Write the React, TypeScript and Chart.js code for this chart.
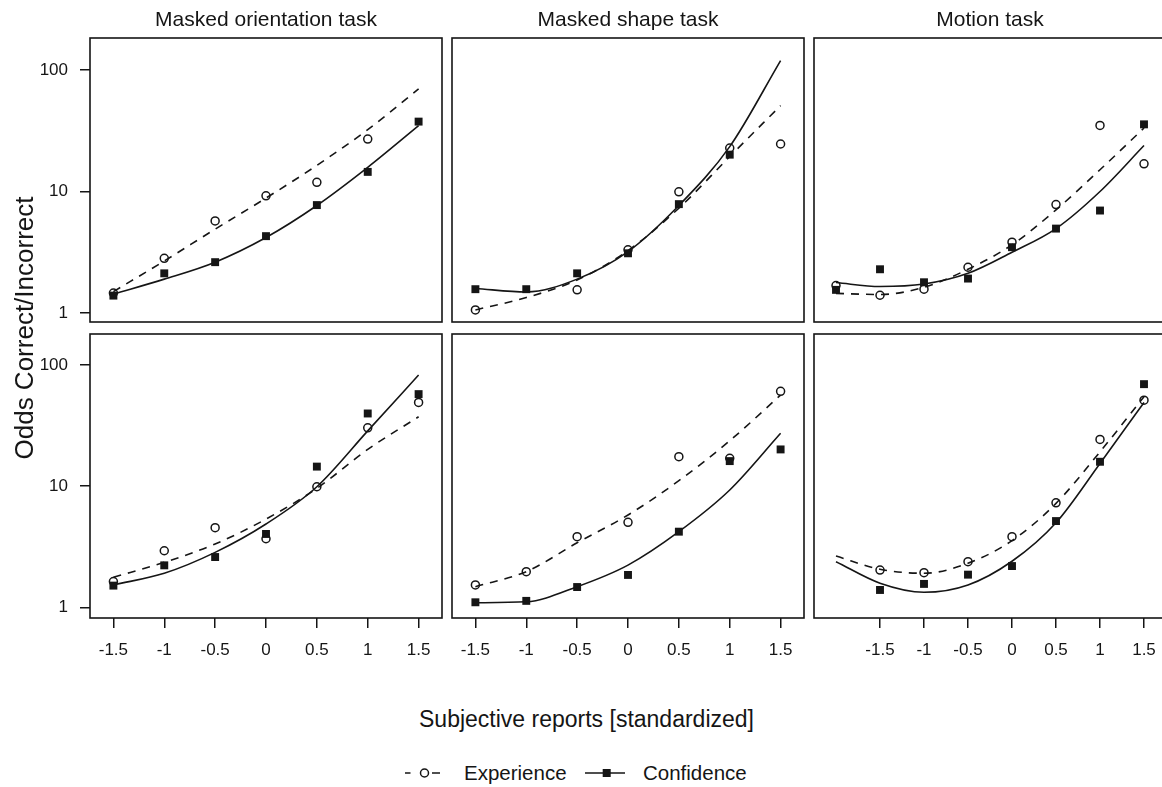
import React, { useEffect, useRef } from "react";
import { Chart, registerables } from "chart.js";

Chart.register(...registerables);

// ---------- data ----------
const TASKS = ["Masked orientation task", "Masked shape task", "Motion task"];
const SERIES = ["Experience", "Confidence"];
const AXIS_Y_TITLE = "Odds Correct/Incorrect";
const AXIS_X_TITLE = "Subjective reports [standardized]";

const X_STD = [-1.5, -1, -0.5, 0, 0.5, 1, 1.5];
const X_MOTION = [-2, -1.5, -1, -0.5, 0, 0.5, 1, 1.5];
const X_TICKS = [-1.5, -1, -0.5, 0, 0.5, 1, 1.5];
const Y_TICKS = [1, 10, 100];

// row 1 - masked orientation
const ORI1_EXP = [1.46, 2.82, 5.73, 9.22, 11.9, 27.0, null];
const ORI1_CONF = [1.39, 2.12, 2.62, 4.29, 7.73, 14.5, 37.6];
const ORI1_EXP_FIT = [1.5, 2.68, 4.9, 8.83, 16.4, 32.3, 69.8];
const ORI1_CONF_FIT = [1.43, 1.9, 2.62, 4.18, 7.67, 15.8, 34.8];

// row 1 - masked shape
const SHP1_EXP = [1.06, null, 1.55, 3.31, 9.94, 22.8, 24.6];
const SHP1_CONF = [1.57, 1.57, 2.12, 3.1, 7.87, 20.1, null];
const SHP1_EXP_FIT = [1.06, 1.34, 1.87, 3.26, 7.29, 19.4, 50.9];
const SHP1_CONF_FIT = [1.59, 1.49, 1.9, 3.2, 7.67, 23.4, 119.6];

// row 1 - motion (x from -2)
const MOT1_EXP = [1.68, 1.4, 1.57, 2.38, 3.83, 7.81, 35.0, 16.9];
const MOT1_CONF = [1.55, 2.29, 1.79, 1.92, 3.48, 4.95, 6.97, 35.7];
const MOT1_EXP_FIT = [1.45, 1.42, 1.63, 2.29, 3.64, 7.06, 15.1, 33.3];
const MOT1_CONF_FIT = [1.78, 1.65, 1.73, 2.12, 3.16, 4.95, 10.0, 23.9];

// row 2 - masked orientation
const ORI2_EXP = [1.63, 2.93, 4.54, 3.68, 9.89, 30.3, 49.1];
const ORI2_CONF = [1.51, 2.22, 2.6, 4.03, 14.5, 39.8, 57.5];
const ORI2_EXP_FIT = [1.77, 2.35, 3.33, 5.35, 9.59, 20.1, 37.4];
const ORI2_CONF_FIT = [1.53, 1.91, 2.84, 4.87, 9.89, 28.6, 82.6];

// row 2 - masked shape
const SHP2_EXP = [1.53, 1.97, 3.83, 5.03, 17.5, 17.0, 60.6];
const SHP2_CONF = [1.1, 1.13, 1.47, 1.85, 4.21, 16.1, 20.1];
const SHP2_EXP_FIT = [1.48, 1.97, 3.41, 5.78, 11.1, 23.7, 56.5];
const SHP2_CONF_FIT = [1.09, 1.11, 1.48, 2.23, 4.21, 9.29, 27.3];

// row 2 - motion (x from -2)
const MOT2_EXP = [null, 2.03, 1.93, 2.38, 3.83, 7.29, 24.3, 51.3];
const MOT2_CONF = [null, 1.39, 1.56, 1.86, 2.19, 5.15, 15.9, 69.5];
const MOT2_EXP_FIT = [2.65, 2.06, 1.91, 2.31, 3.55, 7.21, 19.2, 54.7];
const MOT2_CONF_FIT = [2.38, 1.58, 1.33, 1.53, 2.4, 4.99, 15.4, 49.1];

// ---------- layout / style ----------
const FONT = '"Liberation Sans", Arial, Helvetica, sans-serif';
const INK = "#151515";
const COL_LEFT = [90, 452, 814];
const ROW_TOP = [38, 334];
const BOX_W = 352;
const BOX_H = 284;
const PAD_L = 90;
const PAD_T = 40;
const PAD_R = 12;
const PAD_B = 60;
const X_RANGE_STD = [-1.73, 1.73];
const X_RANGE_MOTION = [-2.25, 1.75];
const Y_RANGE = [
  [0.843, 183.4],
  [0.816, 180.3],
];
const LINE_W = 1.6;

type Vals = (number | null)[];
interface PanelSpec {
  row: number;
  col: number;
  x: number[];
  exp: Vals;
  conf: Vals;
  expFit: Vals;
  confFit: Vals;
}

const PANELS: PanelSpec[] = [
  { row: 0, col: 0, x: X_STD, exp: ORI1_EXP, conf: ORI1_CONF, expFit: ORI1_EXP_FIT, confFit: ORI1_CONF_FIT },
  { row: 0, col: 1, x: X_STD, exp: SHP1_EXP, conf: SHP1_CONF, expFit: SHP1_EXP_FIT, confFit: SHP1_CONF_FIT },
  { row: 0, col: 2, x: X_MOTION, exp: MOT1_EXP, conf: MOT1_CONF, expFit: MOT1_EXP_FIT, confFit: MOT1_CONF_FIT },
  { row: 1, col: 0, x: X_STD, exp: ORI2_EXP, conf: ORI2_CONF, expFit: ORI2_EXP_FIT, confFit: ORI2_CONF_FIT },
  { row: 1, col: 1, x: X_STD, exp: SHP2_EXP, conf: SHP2_CONF, expFit: SHP2_EXP_FIT, confFit: SHP2_CONF_FIT },
  { row: 1, col: 2, x: X_MOTION, exp: MOT2_EXP, conf: MOT2_CONF, expFit: MOT2_EXP_FIT, confFit: MOT2_CONF_FIT },
];

const toPoints = (xs: number[], ys: Vals) =>
  xs.map((x, i) => ({ x, y: ys[i] })).filter((p) => p.y !== null && p.y !== undefined) as { x: number; y: number }[];

const framePlugin = {
  id: "frame",
  afterDraw(chart: any, _args: any, opts: any) {
    const { ctx, chartArea: a } = chart;
    ctx.save();
    ctx.strokeStyle = INK;
    ctx.lineWidth = 1.6;
    ctx.strokeRect(a.left, a.top, a.right - a.left, a.bottom - a.top);
    if (opts && opts.title) {
      ctx.fillStyle = INK;
      ctx.font = `21px ${FONT}`;
      ctx.textAlign = "center";
      ctx.textBaseline = "alphabetic";
      ctx.fillText(opts.title, (a.left + a.right) / 2, a.top - 12);
    }
    ctx.restore();
  },
};

function Panel({ spec }: { spec: PanelSpec }) {
  const ref = useRef<HTMLCanvasElement>(null);
  const left = COL_LEFT[spec.col] - PAD_L;
  const top = ROW_TOP[spec.row] - PAD_T;
  const width = BOX_W + PAD_L + PAD_R;
  const height = BOX_H + PAD_T + PAD_B;
  const showX = spec.row === 1;
  const showY = spec.col === 0;
  const xr = spec.col === 2 ? X_RANGE_MOTION : X_RANGE_STD;
  const yr = Y_RANGE[spec.row];

  useEffect(() => {
    const cv = ref.current;
    if (!cv) return;
    const tickFont = { family: FONT, size: 17 };
    const chart = new Chart(cv, {
      type: "scatter",
      data: {
        datasets: [
          {
            label: SERIES[1],
            data: toPoints(spec.x, spec.conf),
            pointStyle: "rect",
            pointRadius: 5.6,
            backgroundColor: INK,
            borderWidth: 0,
            order: 0,
          },
          {
            label: SERIES[0],
            data: toPoints(spec.x, spec.exp),
            pointStyle: "circle",
            pointRadius: 4,
            borderWidth: 1.5,
            borderColor: INK,
            backgroundColor: "rgba(0,0,0,0)",
            order: 1,
          },
          {
            label: SERIES[1] + " fit",
            data: toPoints(spec.x, spec.confFit),
            showLine: true,
            pointRadius: 0,
            borderWidth: LINE_W,
            borderColor: INK,
            backgroundColor: INK,
            cubicInterpolationMode: "monotone",
            fill: false,
            order: 2,
          },
          {
            label: SERIES[0] + " fit",
            data: toPoints(spec.x, spec.expFit),
            showLine: true,
            pointRadius: 0,
            borderWidth: LINE_W,
            borderColor: INK,
            backgroundColor: INK,
            borderDash: [8, 7],
            cubicInterpolationMode: "monotone",
            fill: false,
            order: 3,
          },
        ] as any,
      },
      options: {
        animation: false,
        responsive: false,
        devicePixelRatio: 1,
        events: [],
        layout: { padding: { left: 0, top: PAD_T, right: PAD_R, bottom: 0 } },
        plugins: {
          legend: { display: false },
          tooltip: { enabled: false },
          frame: { title: spec.row === 0 ? TASKS[spec.col] : "" },
        } as any,
        scales: {
          x: {
            type: "linear",
            position: "bottom",
            min: xr[0],
            max: xr[1],
            afterBuildTicks: (s: any) => {
              s.ticks = X_TICKS.map((v) => ({ value: v }));
            },
            afterFit: (s: any) => {
              s.height = PAD_B;
            },
            ticks: {
              display: showX,
              autoSkip: false,
              maxRotation: 0,
              padding: 12,
              color: INK,
              font: tickFont,
              callback: (v: any) => String(v),
            },
            grid: {
              display: showX,
              drawOnChartArea: false,
              drawTicks: true,
              tickLength: 10,
              color: INK,
              lineWidth: 1.5,
            },
            border: { display: false },
          },
          y: {
            type: "logarithmic",
            position: "left",
            min: yr[0],
            max: yr[1],
            afterBuildTicks: (s: any) => {
              s.ticks = Y_TICKS.map((v) => ({ value: v }));
            },
            afterFit: (s: any) => {
              s.width = PAD_L;
            },
            ticks: {
              display: showY,
              autoSkip: false,
              padding: 12,
              color: INK,
              font: tickFont,
              callback: (v: any) => String(v),
            },
            grid: {
              display: showY,
              drawOnChartArea: false,
              drawTicks: true,
              tickLength: 10,
              color: INK,
              lineWidth: 1.5,
            },
            border: { display: false },
          },
        },
      } as any,
      plugins: [framePlugin as any],
    });
    return () => chart.destroy();
  }, []);

  return (
    <canvas
      ref={ref}
      width={width}
      height={height}
      style={{ position: "absolute", left, top, width, height }}
    />
  );
}

export default function App() {
  const textBase: React.CSSProperties = {
    position: "absolute",
    whiteSpace: "nowrap",
    fontFamily: FONT,
    color: INK,
  };
  return (
    <div
      style={{
        position: "absolute",
        left: 0,
        top: 0,
        width: 1162,
        height: 787,
        overflow: "hidden",
        background: "#fff",
      }}
    >
      {PANELS.map((p, i) => (
        <Panel key={i} spec={p} />
      ))}
      <div
        style={{
          ...textBase,
          left: 24 - 250,
          top: 327.5 - 16,
          width: 500,
          height: 32,
          lineHeight: "32px",
          fontSize: 26,
          textAlign: "center",
          transform: "rotate(-90deg)",
        }}
      >
        {AXIS_Y_TITLE}
      </div>
      <div
        style={{
          ...textBase,
          left: 586.5 - 300,
          top: 719 - 16,
          width: 600,
          height: 32,
          lineHeight: "32px",
          fontSize: 23,
          textAlign: "center",
        }}
      >
        {AXIS_X_TITLE}
      </div>
      <svg
        width={240}
        height={20}
        style={{ position: "absolute", left: 400, top: 763, overflow: "visible" }}
      >
        <line x1={5} y1={10} x2={10.5} y2={10} stroke={INK} strokeWidth={1.5} />
        <circle cx={24.5} cy={10} r={4} fill="none" stroke={INK} strokeWidth={1.5} />
        <line x1={32} y1={10} x2={40} y2={10} stroke={INK} strokeWidth={1.5} />
        <line x1={185} y1={10} x2={225} y2={10} stroke={INK} strokeWidth={1.5} />
        <rect x={202.7} y={6} width={8} height={8} fill={INK} />
      </svg>
      <div style={{ ...textBase, left: 464, top: 773 - 15, lineHeight: "30px", fontSize: 20.5 }}>
        {SERIES[0]}
      </div>
      <div style={{ ...textBase, left: 643, top: 773 - 15, lineHeight: "30px", fontSize: 20.5 }}>
        {SERIES[1]}
      </div>
    </div>
  );
}
